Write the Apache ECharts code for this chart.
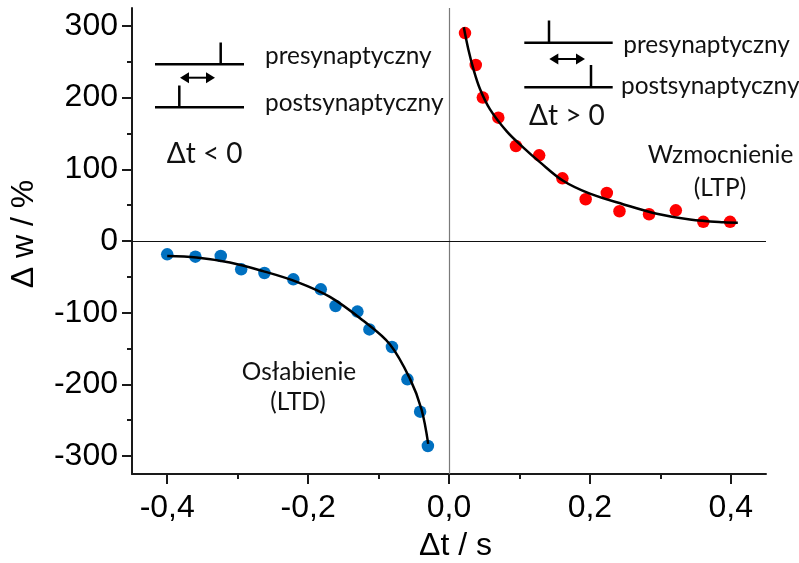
<!DOCTYPE html>
<html><head><meta charset="utf-8">
<script src="https://cdn.jsdelivr.net/npm/echarts@6/dist/echarts.min.js"></script>
<style>html,body{margin:0;padding:0;background:#fff}#c{width:799px;height:563px}</style>
</head><body><div id="c"></div>
<script>
// Axis ticks and labels
const xTicks = [-0.4, -0.2, 0.0, 0.2, 0.4];
const xTickLabels = ['-0,4', '-0,2', '0,0', '0,2', '0,4'];
const xMinorTicks = [-0.3, -0.1, 0.1, 0.3];
const yTicks = [-300, -200, -100, 0, 100, 200, 300];
const yTickLabels = ['-300', '-200', '-100', '0', '100', '200', '300'];
const yMinorTicks = [-250, -150, -50, 50, 150, 250];

// LTD (Osłabienie) measured points
const ltdX = [-0.400, -0.360, -0.324, -0.295, -0.262, -0.221, -0.182, -0.161, -0.130, -0.113, -0.081, -0.059, -0.041, -0.030];
const ltdY = [-18.6, -21.8, -20.9, -39.5, -44.6, -53.5, -67.4, -90.7, -98.5, -123.3, -147.8, -193, -238, -286];
// LTP (Wzmocnienie) measured points
const ltpX = [0.0227, 0.038, 0.048, 0.070, 0.095, 0.128, 0.161, 0.194, 0.224, 0.242, 0.284, 0.322, 0.361, 0.399];
const ltpY = [290, 245.5, 200, 172, 132.5, 119.5, 87.4, 58.2, 67, 41.5, 37.3, 42.8, 26.7, 26.7];

// Fit curves
const ltdFitX = [-0.400, -0.3585, -0.311, -0.264, -0.216, -0.169, -0.122, -0.084, -0.055, -0.039, -0.0295];
const ltdFitY = [-21, -23, -30, -42, -57, -78, -111, -144, -193, -235, -283];
const ltpFitX = [0.021, 0.0275, 0.0346, 0.044, 0.058, 0.082, 0.106, 0.129, 0.162, 0.200, 0.248, 0.295, 0.342, 0.390, 0.410];
const ltpFitY = [298, 267, 240, 212, 184, 153, 130, 110, 84, 66, 51, 38, 30, 26, 25.5];

const pairs = (xs, ys) => xs.map((x, i) => [x, ys[i]]);

const AX = 'Liberation Sans, Arial, sans-serif';
const TX = 'Lato, sans-serif';
const axisColor = '#1a1a1a';

const chart = echarts.init(document.getElementById('c'), null, {renderer: 'canvas'});

function lineEl(x1, y1, x2, y2, w) {
  return {type: 'line', shape: {x1, y1, x2, y2}, style: {stroke: '#000', lineWidth: w || 2.5}, silent: true};
}
function arrowEls(xa, xb, y) {
  return [
    lineEl(xa + 4, y, xb - 4, y, 2),
    {type: 'polygon', shape: {points: [[xa, y], [xa + 9, y - 5.5], [xa + 9, y + 5.5]]}, style: {fill: '#000'}, silent: true},
    {type: 'polygon', shape: {points: [[xb, y], [xb - 9, y - 5.5], [xb - 9, y + 5.5]]}, style: {fill: '#000'}, silent: true}
  ];
}
function textEl(x, y, text, align, size) {
  return {type: 'text', x, y, silent: true,
    style: {text, fill: '#111', font: (size || 24.4) + 'px ' + TX, align: align || 'left', verticalAlign: 'middle'}};
}

const graphics = [
  // left diagram (Δt < 0)
  lineEl(155, 64.3, 244, 64.3), lineEl(220.7, 42.5, 220.7, 64.3),
  lineEl(155, 107.3, 244, 107.3), lineEl(179.3, 85.5, 179.3, 107.3),
  ...arrowEls(180, 215, 77.7),
  textEl(265, 56, 'presynaptyczny'),
  textEl(265, 103.6, 'postsynaptyczny'),
  textEl(166.7, 154, 'Δt < 0', 'left', 28),
  // right diagram (Δt > 0)
  lineEl(524.3, 42.7, 612.7, 42.7), lineEl(549, 20.5, 549, 42.7),
  lineEl(524.3, 87.3, 612.7, 87.3), lineEl(591, 65, 591, 87.3),
  ...arrowEls(549.3, 585, 59),
  textEl(623.3, 45.3, 'presynaptyczny'),
  textEl(621, 86.2, 'postsynaptyczny'),
  textEl(529, 115.5, 'Δt > 0', 'left', 28),
  textEl(720.5, 155.3, 'Wzmocnienie', 'center'),
  textEl(720, 188.6, '(LTP)', 'center'),
  textEl(299, 372, 'Osłabienie', 'center'),
  textEl(298, 402, '(LTD)', 'center')
];

const option = {
  backgroundColor: '#fff',
  animation: false,
  grid: {left: 132, right: 33, top: 8, bottom: 89, containLabel: false, outerBoundsMode: 'none'},
  xAxis: [
    {
      type: 'value', min: -0.45, max: 0.45, position: 'bottom',
      name: 'Δt / s', nameLocation: 'middle', nameGap: 56,
      nameTextStyle: {fontFamily: AX, fontSize: 32, color: '#000', padding: [0, 0, 0, 13]},
      axisLine: {show: true, onZero: false, lineStyle: {color: axisColor, width: 2}},
      axisTick: {show: true, inside: false, length: 10, customValues: xTicks, lineStyle: {color: axisColor, width: 2}},
      axisLabel: {show: true, margin: 18, customValues: xTicks, fontFamily: AX, fontSize: 32, color: '#000',
        formatter: v => { const i = xTicks.findIndex(t => Math.abs(t - v) < 1e-9); return i >= 0 ? xTickLabels[i] : ''; }},
      splitLine: {show: false}
    },
    {
      type: 'value', min: -0.45, max: 0.45, position: 'bottom',
      axisLine: {show: false, onZero: false},
      axisTick: {show: true, inside: false, length: 5, customValues: xMinorTicks, lineStyle: {color: axisColor, width: 2}},
      axisLabel: {show: false}, splitLine: {show: false}
    }
  ],
  yAxis: [
    {
      type: 'value', min: -325, max: 325, position: 'left',
      name: 'Δ w / %', nameLocation: 'middle', nameGap: 92, nameRotate: 90,
      nameTextStyle: {fontFamily: AX, fontSize: 32, color: '#000', padding: [0, 0, 0, 14]},
      axisLine: {show: true, onZero: false, lineStyle: {color: axisColor, width: 2}},
      axisTick: {show: true, inside: false, length: 10, customValues: yTicks, lineStyle: {color: axisColor, width: 2}},
      axisLabel: {show: true, margin: 14, customValues: yTicks, fontFamily: AX, fontSize: 32, color: '#000',
        formatter: v => { const i = yTicks.findIndex(t => Math.abs(t - v) < 1e-9); return i >= 0 ? yTickLabels[i] : ''; }},
      splitLine: {show: false}
    },
    {
      type: 'value', min: -325, max: 325, position: 'left',
      axisLine: {show: false, onZero: false},
      axisTick: {show: true, inside: false, length: 5, customValues: yMinorTicks, lineStyle: {color: axisColor, width: 2}},
      axisLabel: {show: false}, splitLine: {show: false}
    }
  ],
  series: [
    {
      name: 'LTD', type: 'scatter', xAxisIndex: 0, yAxisIndex: 0, z: 2,
      symbol: 'circle', symbolSize: 12.5, itemStyle: {color: '#0070C0', opacity: 1},
      data: pairs(ltdX, ltdY),
      markLine: {
        silent: true, symbol: ['none', 'none'], label: {show: false},
        data: [
          {xAxis: 0, lineStyle: {color: '#7a7a7a', width: 1.2, type: 'solid'}},
          {yAxis: 0, lineStyle: {color: '#111', width: 1.2, type: 'solid'}}
        ]
      }
    },
    {
      name: 'LTP', type: 'scatter', xAxisIndex: 0, yAxisIndex: 0, z: 2,
      symbol: 'circle', symbolSize: 12.5, itemStyle: {color: '#FF0000', opacity: 1},
      data: pairs(ltpX, ltpY)
    },
    {
      name: 'LTD fit', type: 'line', xAxisIndex: 0, yAxisIndex: 0, z: 3,
      showSymbol: false, smooth: 0.35, lineStyle: {color: '#000', width: 2.5},
      data: pairs(ltdFitX, ltdFitY)
    },
    {
      name: 'LTP fit', type: 'line', xAxisIndex: 0, yAxisIndex: 0, z: 3,
      showSymbol: false, smooth: 0.35, lineStyle: {color: '#000', width: 2.5},
      data: pairs(ltpFitX, ltpFitY)
    }
  ],
  graphic: graphics
};
chart.setOption(option);
</script>
</body></html>
